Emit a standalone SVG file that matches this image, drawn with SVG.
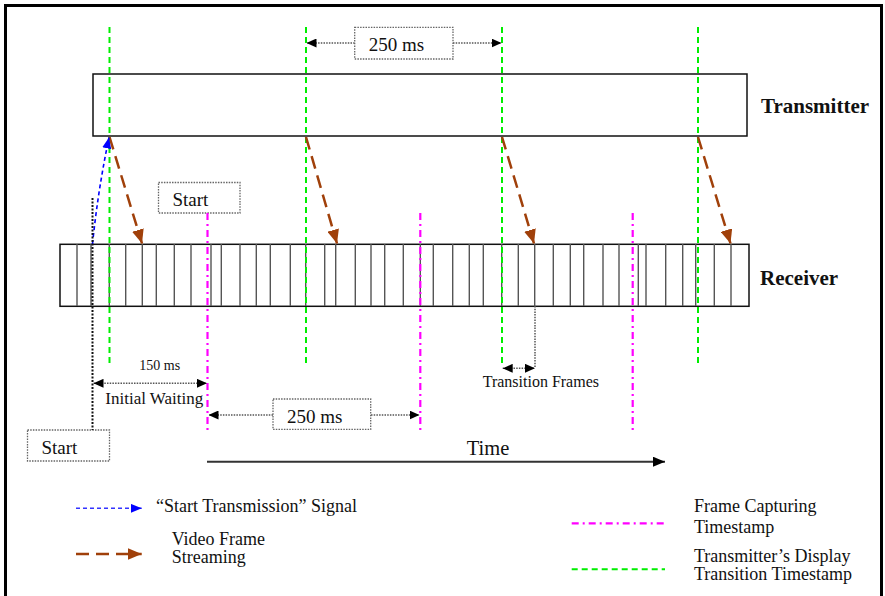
<svg xmlns="http://www.w3.org/2000/svg" width="885" height="596" viewBox="0 0 885 596">
<defs>
<style>
text{font-family:"Liberation Serif","Times New Roman",serif;fill:#111}
.bold{font-weight:bold}
.green{stroke:#00ee00;stroke-width:2;stroke-dasharray:6 4;fill:none}
.mag{stroke:#ff00ff;stroke-width:2.2;stroke-dasharray:7 4 2 4;fill:none}
.brown{stroke:#a0400a;stroke-width:2.5;stroke-dasharray:13 7;fill:none}
.blue{stroke:#0000ff;stroke-width:1.6;stroke-dasharray:4 3;fill:none}
.dim{stroke:#555;stroke-width:1.5;stroke-dasharray:1.5 1.2;fill:none}
.dbox{stroke:#666;stroke-width:1.3;stroke-dasharray:1.5 1.2;fill:#fff}
.blkdot{stroke:#111;stroke-width:2;stroke-dasharray:2 1.5;fill:none}
</style>
<marker id="ahBrown" viewBox="0 0 14 12" refX="14" refY="6" markerWidth="14" markerHeight="12" markerUnits="userSpaceOnUse" orient="auto"><path d="M0,0 L14,6 L0,12 z" fill="#a0400a"/></marker>
<marker id="ahBlue" viewBox="0 0 11 9" refX="11" refY="4.5" markerWidth="11" markerHeight="9" markerUnits="userSpaceOnUse" orient="auto"><path d="M0,0 L11,4.5 L0,9 z" fill="#0000ff"/></marker>
<marker id="ahBlk" viewBox="0 0 10 9" refX="10" refY="4.5" markerWidth="10" markerHeight="9" markerUnits="userSpaceOnUse" orient="auto-start-reverse"><path d="M0,0 L10,4.5 L0,9 z" fill="#000"/></marker>
<marker id="ahTime" viewBox="0 0 12 10" refX="12" refY="5" markerWidth="12" markerHeight="10" markerUnits="userSpaceOnUse" orient="auto"><path d="M0,0 L12,5 L0,10 z" fill="#000"/></marker>
</defs>
<rect x="0" y="0" width="885" height="596" fill="#fff"/>
<rect x="5.5" y="5.5" width="876" height="620" fill="none" stroke="#000" stroke-width="3"/>

<g id="transmitter">
<rect x="93" y="74" width="654" height="62" fill="#fff" stroke="#111" stroke-width="1.5"/>
<text class="bold" x="761" y="113" font-size="21">Transmitter</text>
</g>

<g id="receiver">
<rect x="60" y="244.3" width="689" height="62" fill="#fff" stroke="#111" stroke-width="1.5"/>
<path stroke="#555" stroke-width="1.4" fill="none" d="M77,244V306M91,244V306M109.3,244V306M125.7,244V306M142.3,244V306M156.3,244V306M174.3,244V306M191,244V306M211,244V306M221.3,244V306M240,244V306M256.3,244V306M270.3,244V306M290.3,244V306M305.7,244V306M324.7,244V306M335.7,244V306M355.3,244V306M371,244V306M384.7,244V306M403.3,244V306M420.3,244V306M433.3,244V306M452.7,244V306M469.3,244V306M483.3,244V306M501.7,244V306M518.3,244V306M534.7,244V306M553.3,244V306M570.3,244V306M583.7,244V306M603,244V306M619,244V306M638.3,244V306M646,244V306M665.7,244V306M682.7,244V306M695.7,244V306M714.3,244V306M731,244V306"/>
<text class="bold" x="760" y="285" font-size="21">Receiver</text>
</g>

<g id="start-top">
<rect class="dbox" x="158.5" y="182.5" width="81.5" height="30.5"/>
<text x="172.5" y="206" font-size="19">Start</text>
</g>

<g id="start-bottom">
<rect class="dbox" x="27.5" y="430" width="82" height="31"/>
<text x="41.5" y="454" font-size="19">Start</text>
</g>

<g id="connectors">
<!-- green transition timestamps -->
<path class="green" d="M109.5,27V367M306,27V367M502,27V367M698,27V367"/>
<!-- magenta capture timestamps -->
<path class="mag" d="M207.5,213V430M420.3,213V430M632.7,213V430"/>
<!-- brown video frame streaming -->
<path class="brown" marker-end="url(#ahBrown)" d="M109.5,137L142,243.5"/>
<path class="brown" marker-end="url(#ahBrown)" d="M306,137L337,243.5"/>
<path class="brown" marker-end="url(#ahBrown)" d="M502,137L534,243.5"/>
<path class="brown" marker-end="url(#ahBrown)" d="M698,137L730.5,243.5"/>
<!-- blue start signal -->
<path class="blue" marker-end="url(#ahBlue)" d="M92.5,244Q98,190 109,137.5"/>
<!-- black dotted start line -->
<path class="blkdot" d="M92.5,198V430"/>
<!-- top 250 ms -->
<path class="dim" marker-end="url(#ahBlk)" d="M354.7,43H306.5"/>
<path class="dim" marker-end="url(#ahBlk)" d="M453,43H501.5"/>
<!-- 150 ms -->
<path class="dim" marker-start="url(#ahBlk)" marker-end="url(#ahBlk)" d="M93.5,383.3H207"/>
<!-- bottom 250 ms -->
<path class="dim" marker-end="url(#ahBlk)" d="M273,415H208.5"/>
<path class="dim" marker-end="url(#ahBlk)" d="M371,415H419.5"/>
<!-- transition frames -->
<path class="dim" d="M535,306V368"/>
<path class="dim" marker-start="url(#ahBlk)" marker-end="url(#ahBlk)" d="M502.7,368.3H535"/>
<!-- time axis -->
<path stroke="#333" stroke-width="2" fill="none" marker-end="url(#ahTime)" d="M207,461.7H665"/>
</g>

<g id="label-250-top">
<rect class="dbox" x="354.7" y="27.3" width="98.3" height="31.7"/>
<text x="368.7" y="51" font-size="19">250 ms</text>
</g>
<g id="label-250-bottom">
<rect class="dbox" x="273" y="399" width="97.7" height="30.3"/>
<text x="287" y="423" font-size="19">250 ms</text>
</g>
<g id="labels">
<text x="139.3" y="370" font-size="14">150 ms</text>
<text x="105.3" y="404" font-size="17" fill="#222">Initial Waiting</text>
<text x="482.7" y="387" font-size="16" fill="#222">Transition Frames</text>
<text x="466.7" y="455" font-size="20.5">Time</text>
</g>

<g id="legend">
<path stroke="#3333ff" stroke-width="1.6" stroke-dasharray="4 3" fill="none" marker-end="url(#ahBlue)" d="M76,508.3H141.7"/>
<text x="156" y="512.3" font-size="18">“Start Transmission” Signal</text>
<path class="brown" stroke-dasharray="13 7" marker-end="url(#ahBrown)" d="M76,554H141.7"/>
<text x="171.7" y="545" font-size="18">Video Frame</text>
<text x="171.7" y="563.3" font-size="18">Streaming</text>
<path class="mag" d="M571.7,523.3H665"/>
<text x="694" y="512.3" font-size="18">Frame Capturing</text>
<text x="694" y="532.7" font-size="18">Timestamp</text>
<path class="green" stroke="#22ff22" d="M571.7,569.3H665"/>
<text x="694" y="561.7" font-size="18">Transmitter’s Display</text>
<text x="694" y="580" font-size="18">Transition Timestamp</text>
</g>
</svg>
